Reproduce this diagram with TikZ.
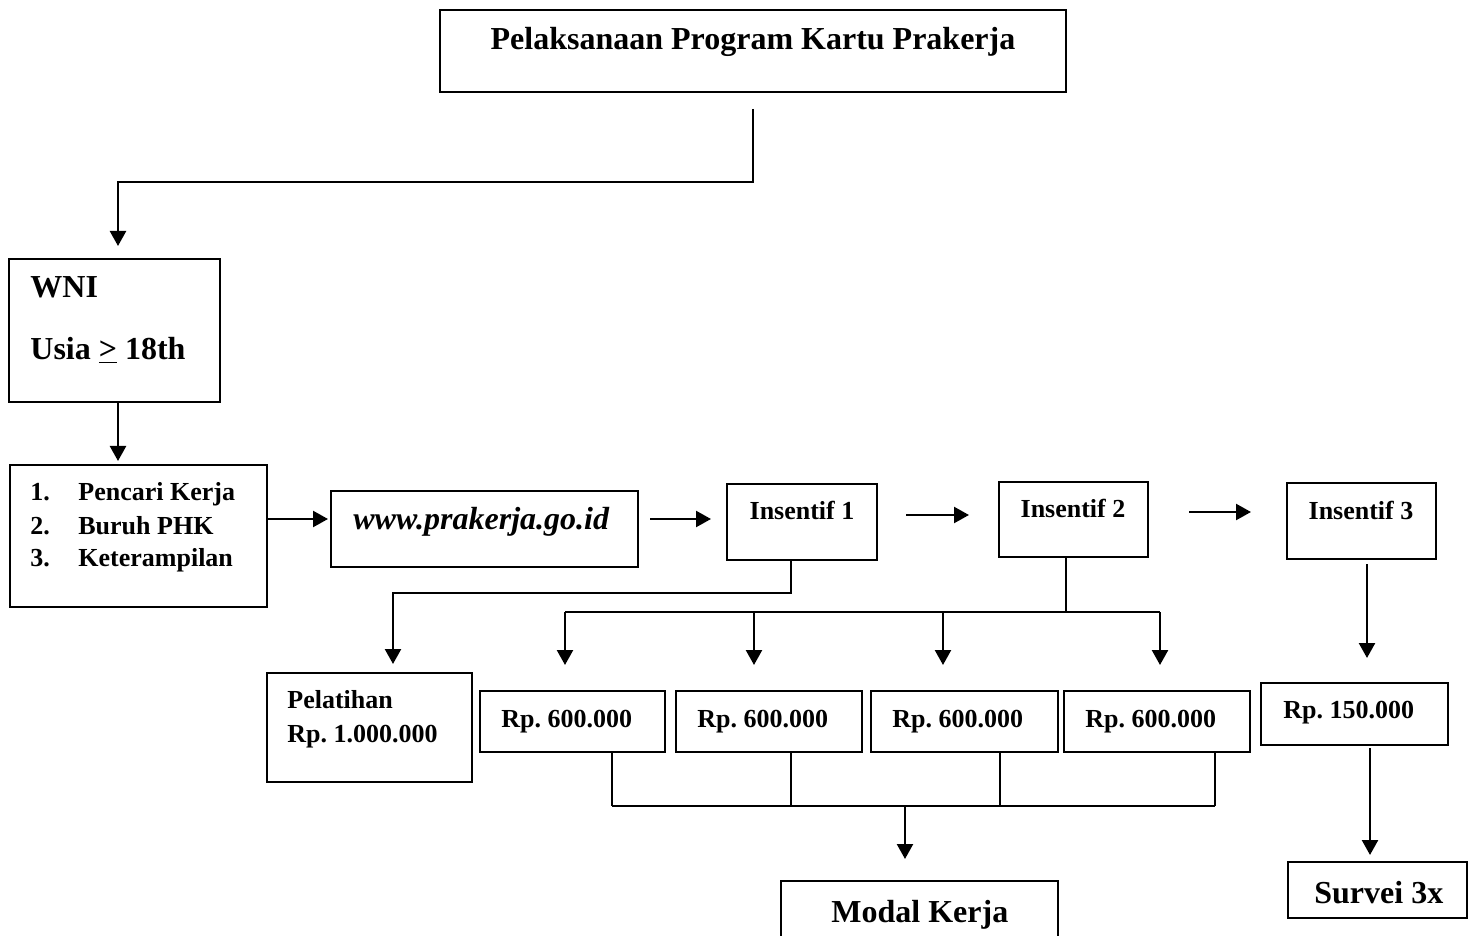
\documentclass[tikz,border=0pt]{standalone}
\usepackage{fontspec}
\setmainfont{Liberation Serif}
\usetikzlibrary{arrows.meta,fit,calc}
\frenchspacing
\tikzset{
  boxst/.style={draw, line width=1pt, inner sep=0pt},
  bigtxt/.style={font=\fontsize{16}{19}\selectfont\bfseries, inner sep=0pt},
  smalltxt/.style={font=\fontsize{13}{16}\selectfont\bfseries, inner sep=0pt},
  arr/.style={line width=1.2pt, -{Triangle[length=7.5pt,width=8pt]}},
  ln/.style={line width=1.1pt},
  thinln/.style={line width=0.8pt}
}
\begin{document}
\begin{tikzpicture}[x=0.5pt,y=-0.5pt]
\clip (0,0) rectangle (1469,936);
\fill[white] (0,0) rectangle (1469,936);

% boxes
\node[boxst, fit={(440,10) (1066,92)}] (top) {};
\node[boxst, fit={(9,259) (220,402)}] (wni) {};
\node[boxst, fit={(10,465) (267,607)}] (list) {};
\node[boxst, fit={(331,491) (638,567)}] (www) {};
\node[boxst, fit={(727,484) (877,560)}] (ins1) {};
\node[boxst, fit={(999,482) (1148,557)}] (ins2) {};
\node[boxst, fit={(1287,483) (1436,559)}] (ins3) {};
\node[boxst, fit={(267,673) (472,782)}] (pel) {};
\node[boxst, fit={(480,691) (665,752)}] (rpa) {};
\node[boxst, fit={(676,691) (862,752)}] (rpb) {};
\node[boxst, fit={(871,691) (1058,752)}] (rpc) {};
\node[boxst, fit={(1064,691) (1250,752)}] (rpd) {};
\node[boxst, fit={(1261,683) (1448,745)}] (rpe) {};
\node[boxst, fit={(781,881) (1058,960)}] (modal) {};
\node[boxst, fit={(1288,862) (1467,918)}] (survei) {};

% texts
\node[bigtxt, anchor=base] (ttop) at (753,50) {Pelaksanaan Program Kartu Prakerja};
\node[bigtxt, anchor=base west] (twni) at (30,298) {WNI};
\node[bigtxt, anchor=base west] (tusia) at (30,360) {Usia \underline{>} 18th};
\node[smalltxt, anchor=base west] (n1) at (30,501) {1.};
\node[smalltxt, anchor=base west] (n2) at (30,534) {2.};
\node[smalltxt, anchor=base west] (n3) at (30,567) {3.};
\node[smalltxt, anchor=base west] (l1) at (78,501) {Pencari Kerja};
\node[smalltxt, anchor=base west] (l2) at (78,534) {Buruh PHK};
\node[smalltxt, anchor=base west] (l3) at (78,567) {Keterampilan};
\node[bigtxt, anchor=base west] (twww) at (353,530) {\itshape www.prakerja.go.id};
\node[smalltxt, anchor=base] (tins1) at (802,520) {Insentif 1};
\node[smalltxt, anchor=base] (tins2) at (1073,517) {Insentif 2};
\node[smalltxt, anchor=base] (tins3) at (1361,519) {Insentif 3};
\node[smalltxt, anchor=base west] (tpel1) at (287,708) {Pelatihan};
\node[smalltxt, anchor=base west] (tpel2) at (287,742) {Rp. 1.000.000};
\node[smalltxt, anchor=base west] (trpa) at (501,727) {Rp. 600.000};
\node[smalltxt, anchor=base west] (trpb) at (697,727) {Rp. 600.000};
\node[smalltxt, anchor=base west] (trpc) at (892,727) {Rp. 600.000};
\node[smalltxt, anchor=base west] (trpd) at (1085,727) {Rp. 600.000};
\node[smalltxt, anchor=base west] (trpe) at (1283,718) {Rp. 150.000};
\node[bigtxt, anchor=base west] (tmodal) at (831,922) {Modal Kerja};
\node[bigtxt, anchor=base west] (tsurvei) at (1314,903) {Survei 3x};

% connectors
\draw[arr, shorten <=8pt, shorten >=6pt] (top.south) |- (118,182) -- (118,0 |- wni.north);
\draw[arr, shorten >=1.5pt] (118,0 |- wni.south) -- (118,0 |- list.north);
\draw[arr, shorten >=1pt] (list.east |- 0,519) -- (www.west |- 0,519);
\draw[arr, shorten <=5.5pt, shorten >=7.5pt] (www.east |- 0,519) -- (ins1.west |- 0,519);
\draw[arr, shorten <=14pt, shorten >=14.5pt] (ins1.east |- 0,515) -- (ins2.west |- 0,515);
\draw[arr, shorten <=20pt, shorten >=17.5pt] (ins2.east |- 0,512) -- (ins3.west |- 0,512);

\draw[arr, shorten >=4pt] (791,0 |- ins1.south) |- (393,593) -- (393,0 |- pel.north);

\draw[ln] (1066,0 |- ins2.south) -- (1066,612);
\draw[ln] (565,612) -- (1160,612);
\draw[arr, shorten >=12.5pt] (565,612) -- (565,0 |- rpa.north);
\draw[arr, shorten >=12.5pt] (754,612) -- (754,0 |- rpb.north);
\draw[arr, shorten >=12.5pt] (943,612) -- (943,0 |- rpc.north);
\draw[arr, shorten >=12.5pt] (1160,612) -- (1160,0 |- rpd.north);

\draw[arr, shorten <=2pt, shorten >=12pt] (1367,0 |- ins3.south) -- (1367,0 |- rpe.north);
\draw[arr, shorten <=1pt, shorten >=3pt] (1370,0 |- rpe.south) -- (1370,0 |- survei.north);

\draw[thinln] (612,0 |- rpa.south) -- (612,806);
\draw[thinln] (791,0 |- rpb.south) -- (791,806);
\draw[thinln] (1000,0 |- rpc.south) -- (1000,806);
\draw[thinln] (1215,0 |- rpd.south) -- (1215,806);
\draw[ln] (612,806) -- (1215,806);
\draw[arr, shorten >=10.5pt] (905,806) -- (905,0 |- modal.north);
\end{tikzpicture}
\end{document}
